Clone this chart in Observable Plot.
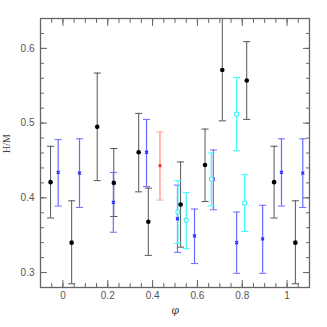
<!DOCTYPE html>
<html><head><meta charset="utf-8">
<script src="https://cdn.jsdelivr.net/npm/d3@7"></script>
<script src="https://cdn.jsdelivr.net/npm/@observablehq/plot@0.6"></script>
<style>body{margin:0;background:#fff}</style>
</head><body><div id="chart"></div>
<script>
const blackX  = [-0.055, 0.039, 0.153, 0.227, 0.338, 0.381, 0.525, 0.634, 0.711, 0.820, 0.942, 1.037];
const blackY  = [0.421, 0.340, 0.495, 0.420, 0.461, 0.368, 0.391, 0.444, 0.571, 0.557, 0.421, 0.340];
const blackLo = [0.373, 0.285, 0.423, 0.375, 0.408, 0.323, 0.334, 0.395, 0.503, 0.505, 0.373, 0.285];
const blackHi = [0.469, 0.396, 0.567, 0.466, 0.513, 0.413, 0.448, 0.492, 0.680, 0.609, 0.469, 0.396];

const blueX  = [-0.021, 0.074, 0.225, 0.373, 0.511, 0.587, 0.671, 0.775, 0.891, 0.975, 1.070];
const blueY  = [0.434, 0.433, 0.394, 0.461, 0.372, 0.349, 0.425, 0.340, 0.345, 0.434, 0.433];
const blueLo = [0.389, 0.387, 0.354, 0.415, 0.327, 0.312, 0.384, 0.299, 0.299, 0.389, 0.387];
const blueHi = [0.478, 0.479, 0.434, 0.505, 0.417, 0.385, 0.464, 0.381, 0.390, 0.479, 0.479];

const cyanX  = [0.513, 0.550, 0.662, 0.775, 0.811];
const cyanY  = [0.381, 0.370, 0.425, 0.512, 0.393];
const cyanLo = [0.339, 0.332, 0.389, 0.463, 0.355];
const cyanHi = [0.423, 0.407, 0.460, 0.561, 0.431];

const redX  = [0.433];
const redY  = [0.443];
const redLo = [0.397];
const redHi = [0.488];

const xMajor = [0, 0.2, 0.4, 0.6, 0.8, 1];
const xMinor = d3.range(-0.1, 1.1001, 0.05).map(v => +v.toFixed(2));
const yMajor = [0.3, 0.4, 0.5, 0.6];
const yMinor = d3.range(0.28, 0.6401, 0.02).map(v => +v.toFixed(2));

const rows = (xs, ys, lo, hi) => xs.map((x, i) => ({x, y: ys[i], lo: lo[i], hi: hi[i]}));
const black = rows(blackX, blackY, blackLo, blackHi);
const blue = rows(blueX, blueY, blueLo, blueHi);
const cyan = rows(cyanX, cyanY, cyanLo, cyanHi);
const red = rows(redX, redY, redLo, redHi);

const capSym = {draw(c, s) { const r = Math.sqrt(s); c.moveTo(-r, 0); c.lineTo(r, 0); }};

function errMarks(data, color, width) {
  return [
    Plot.ruleX(data, {x: "x", y1: "lo", y2: "hi", stroke: color, strokeWidth: width, clip: true}),
    Plot.dot(data, {x: "x", y: "lo", symbol: capSym, r: 2, stroke: color, strokeWidth: 1, clip: true}),
    Plot.dot(data, {x: "x", y: "hi", symbol: capSym, r: 2, stroke: color, strokeWidth: 1, clip: true})
  ];
}

const axColor = "#666";
const tickOnly = {fill: "none", label: null, stroke: axColor};
const chart = Plot.plot({
  width: 327, height: 327,
  marginLeft: 40, marginRight: 18, marginTop: 18, marginBottom: 40,
  style: {fontFamily: "Liberation Sans, sans-serif", fontSize: "10px", color: "#444", background: "#fff"},
  x: {domain: [-0.1, 1.1], axis: null},
  y: {domain: [0.28, 0.64], axis: null},
  marks: [
    ...errMarks(black, "#555", 1),
    ...errMarks(blue, "#6a6aff", 1.2),
    ...errMarks(cyan, "#33ffff", 1.2),
    ...errMarks(red, "#ffa0a0", 1.5),
    Plot.dot(black, {x: "x", y: "y", r: 2.3, fill: "black"}),
    Plot.dot(blue, {x: "x", y: "y", symbol: "times", r: 1.5, stroke: "#2222ff", strokeWidth: 1.2}),
    Plot.dot(cyan, {x: "x", y: "y", symbol: "square", r: 2.1, stroke: "#33eeee", fill: "white", strokeWidth: 1}),
    Plot.dot(red, {x: "x", y: "y", symbol: "square", r: 1.6, fill: "#ff2222"}),
    Plot.frame({stroke: axColor, strokeWidth: 1.3}),
    Plot.axisX(xMajor, {anchor: "bottom", tickSize: -7, ...tickOnly}),
    Plot.axisX(xMinor, {anchor: "bottom", tickSize: -4, ...tickOnly}),
    Plot.axisX(xMajor, {anchor: "top", tickSize: -7, ...tickOnly}),
    Plot.axisX(xMinor, {anchor: "top", tickSize: -4, ...tickOnly}),
    Plot.axisY(yMajor, {anchor: "left", tickSize: -7, ...tickOnly}),
    Plot.axisY(yMinor, {anchor: "left", tickSize: -4, ...tickOnly}),
    Plot.axisY(yMajor, {anchor: "right", tickSize: -7, ...tickOnly}),
    Plot.axisY(yMinor, {anchor: "right", tickSize: -4, ...tickOnly}),
    Plot.axisX(xMajor, {anchor: "bottom", tickSize: 0, tickPadding: 4, tickFormat: d => String(d), label: null, fill: "#555"}),
    Plot.axisY(yMajor, {anchor: "left", tickSize: 0, tickPadding: 6, tickFormat: d => d.toFixed(1), label: null, fill: "#555"}),
    Plot.text(["φ"], {frameAnchor: "bottom", dy: 26, fontStyle: "italic", fontFamily: "DejaVu Serif, serif", fontSize: 11, fill: "#444"}),
    Plot.text(["H/M"], {frameAnchor: "left", dx: -34, rotate: -90, fontFamily: "Liberation Serif, serif", fontSize: 10, fill: "#444"})
  ]
});
document.getElementById("chart").append(chart);
</script>
</body></html>
